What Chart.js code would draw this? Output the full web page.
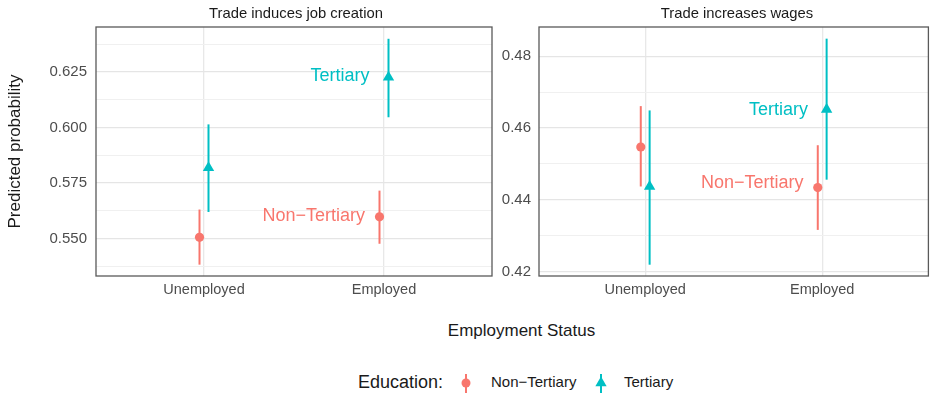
<!DOCTYPE html>
<html><head><meta charset="utf-8">
<script src="https://cdn.jsdelivr.net/npm/chart.js@4.4.1/dist/chart.umd.min.js"></script>
<style>
html,body{margin:0;padding:0;background:#fff;overflow:hidden;width:930px;height:395px;}
#wrap{position:relative;width:930px;height:395px;overflow:hidden;font-family:"Liberation Sans",Arial,sans-serif;color:#1a1a1a;}
.abs{position:absolute;white-space:nowrap;}
.t{height:24px;line-height:24px;}
</style></head><body>
<div id="wrap">
  <div class="abs" style="left:0;top:0;width:500px;height:300px"><canvas id="c1" width="500" height="300"></canvas></div>
  <div class="abs" style="left:460px;top:0;width:475px;height:300px"><canvas id="c2" width="475" height="300"></canvas></div>
  <div class="abs t" id="strip1" style="left:98px;width:396px;top:1px;text-align:center;font-size:14.8px;">Trade induces job creation</div>
  <div class="abs t" id="strip2" style="left:539px;width:396px;top:1px;text-align:center;font-size:14.8px;">Trade increases wages</div>
  <div class="abs t" style="left:102px;width:839px;top:319px;text-align:center;font-size:17px;">Employment Status</div>
  <div class="abs t" style="left:358px;top:370px;font-size:18px;">Education:</div>
  <svg class="abs" style="left:456px;top:372px" width="20" height="22"><line x1="10" y1="2" x2="10" y2="21" stroke="#F8766D" stroke-width="2"/><circle cx="10" cy="11" r="4.5" fill="#F8766D"/></svg>
  <div class="abs t" id="leg1" style="left:491px;top:370px;font-size:15px;"></div>
  <svg class="abs" style="left:591px;top:372px" width="20" height="22"><line x1="10" y1="2" x2="10" y2="21" stroke="#00BFC4" stroke-width="2"/><polygon points="10,4.5 15.63,14.25 4.37,14.25" fill="#00BFC4"/></svg>
  <div class="abs t" id="leg2" style="left:624px;top:370px;font-size:15px;"></div>
</div>
<script>
// ---- data ----
const categories = ['Unemployed', 'Employed'];
const seriesNames = ['Non\u2212Tertiary', 'Tertiary'];
const seriesColors = ['#F8766D', '#00BFC4'];

// Panel 1: Trade induces job creation
const jobNonTertiary   = [0.5506, 0.5598];
const jobNonTertiaryLo = [0.5383, 0.5477];
const jobNonTertiaryHi = [0.5631, 0.5716];
const jobTertiary      = [0.5819, 0.6226];
const jobTertiaryLo    = [0.5620, 0.6046];
const jobTertiaryHi    = [0.6014, 0.6399];
const jobTicks  = [0.550, 0.575, 0.600, 0.625];
const jobMinor  = [0.5375, 0.5625, 0.5875, 0.6125, 0.6375];
const jobRange  = [0.5332, 0.6452];
const jobLabelY = [0.5600, 0.6230];

// Panel 2: Trade increases wages
const wageNonTertiary   = [0.4547, 0.4434];
const wageNonTertiaryLo = [0.4437, 0.4316];
const wageNonTertiaryHi = [0.4661, 0.4552];
const wageTertiary      = [0.4437, 0.4652];
const wageTertiaryLo    = [0.4219, 0.4456];
const wageTertiaryHi    = [0.4649, 0.4849];
const wageTicks  = [0.42, 0.44, 0.46, 0.48];
const wageMinor  = [0.43, 0.45, 0.47];
const wageRange  = [0.41875, 0.48815];
const wageLabelY = [0.4446, 0.4649];

document.getElementById('leg1').textContent = seriesNames[0];
document.getElementById('leg2').textContent = seriesNames[1];

const FONT = '"Liberation Sans", Arial, sans-serif';
const DODGE = [-0.025, 0.025];
const LABEL_X = [1.895, 1.92];

const errorBarPlugin = {
  id: 'errbars',
  beforeDatasetsDraw(chart) {
    const ctx = chart.ctx, ys = chart.scales.y;
    chart.data.datasets.forEach((ds, i) => {
      const meta = chart.getDatasetMeta(i);
      ctx.save();
      ctx.strokeStyle = ds.borderColor;
      ctx.lineWidth = 2;
      meta.data.forEach((pt, j) => {
        ctx.beginPath();
        ctx.moveTo(pt.x, ys.getPixelForValue(ds.lo[j]));
        ctx.lineTo(pt.x, ys.getPixelForValue(ds.hi[j]));
        ctx.stroke();
      });
      ctx.restore();
    });
  },
  afterDatasetsDraw(chart) {
    const ctx = chart.ctx, xs = chart.scales.x, ys = chart.scales.y;
    chart.data.datasets.forEach((ds, i) => {
      ctx.save();
      ctx.font = '18px ' + FONT;
      ctx.fillStyle = ds.borderColor;
      ctx.textAlign = 'right';
      ctx.textBaseline = 'middle';
      ctx.fillText(ds.label, xs.getPixelForValue(LABEL_X[i]), ys.getPixelForValue(ds.labelY));
      ctx.restore();
    });
  },
  afterDraw(chart) {
    const a = chart.chartArea, ctx = chart.ctx;
    ctx.save();
    ctx.strokeStyle = '#595959';
    ctx.lineWidth = 1.3;
    ctx.strokeRect(a.left, a.top, a.right - a.left, a.bottom - a.top);
    ctx.restore();
  }
};

function makeChart(id, p) {
  const majorSet = new Set(p.ticks);
  const datasets = p.series.map((s, i) => ({
    label: seriesNames[i],
    data: s.val.map((v, j) => ({x: j + 1 + DODGE[i], y: v})),
    lo: s.lo, hi: s.hi, labelY: p.labelY[i],
    borderColor: seriesColors[i],
    backgroundColor: seriesColors[i],
    pointStyle: i === 0 ? 'circle' : 'triangle',
    pointRadius: i === 0 ? 4.6 : 6.6,
    pointBorderWidth: 0,
    showLine: false
  }));
  return new Chart(document.getElementById(id), {
    type: 'scatter',
    data: {datasets},
    plugins: [errorBarPlugin],
    options: {
      responsive: false,
      animation: false,
      layout: {padding: {top: 27, right: p.padRight, left: 0, bottom: 0}},
      plugins: {legend: {display: false}, tooltip: {enabled: false}},
      scales: {
        x: {
          type: 'linear', min: 0.4, max: 2.6,
          afterBuildTicks: sc => { sc.ticks = categories.map((c, j) => ({value: j + 1})); },
          afterFit: sc => { sc.height = 24; },
          ticks: {callback: v => categories[Math.round(v) - 1], color: '#4d4d4d',
                  font: {family: FONT, size: 14.5}, padding: 5, maxRotation: 0, autoSkip: false},
          grid: {color: '#e8e8e8', lineWidth: 1.3, drawTicks: false},
          border: {display: false}
        },
        y: {
          type: 'linear', min: p.range[0], max: p.range[1],
          afterBuildTicks: sc => {
            sc.ticks = p.ticks.concat(p.minor).sort((a, b) => a - b).map(v => ({value: v}));
          },
          afterFit: sc => { sc.width = p.yWidth; },
          ticks: {callback: v => majorSet.has(v) ? v.toFixed(p.dec) : '', color: '#4d4d4d',
                  font: {family: FONT, size: 15}, padding: p.tickPad, autoSkip: false},
          grid: {color: c => (c.tick && majorSet.has(c.tick.value)) ? '#e5e5e5' : '#f0f0f0',
                 lineWidth: c => (c.tick && majorSet.has(c.tick.value)) ? 1.3 : 1, drawTicks: false},
          border: {display: false},
          title: {display: !!p.yTitle, text: p.yTitle || '', color: '#1a1a1a',
                  font: {family: FONT, size: 17}, padding: {top: 5, bottom: 0}}
        }
      }
    }
  });
}

makeChart('c1', {
  series: [
    {val: jobNonTertiary, lo: jobNonTertiaryLo, hi: jobNonTertiaryHi},
    {val: jobTertiary, lo: jobTertiaryLo, hi: jobTertiaryHi}
  ],
  ticks: jobTicks, minor: jobMinor, range: jobRange, labelY: jobLabelY,
  dec: 3, yWidth: 96, tickPad: 9, padRight: 8, yTitle: 'Predicted probability'
});
makeChart('c2', {
  series: [
    {val: wageNonTertiary, lo: wageNonTertiaryLo, hi: wageNonTertiaryHi},
    {val: wageTertiary, lo: wageTertiaryLo, hi: wageTertiaryHi}
  ],
  ticks: wageTicks, minor: wageMinor, range: wageRange, labelY: wageLabelY,
  dec: 2, yWidth: 79, tickPad: 8, padRight: 0, yTitle: null
});
</script>
</body></html>
